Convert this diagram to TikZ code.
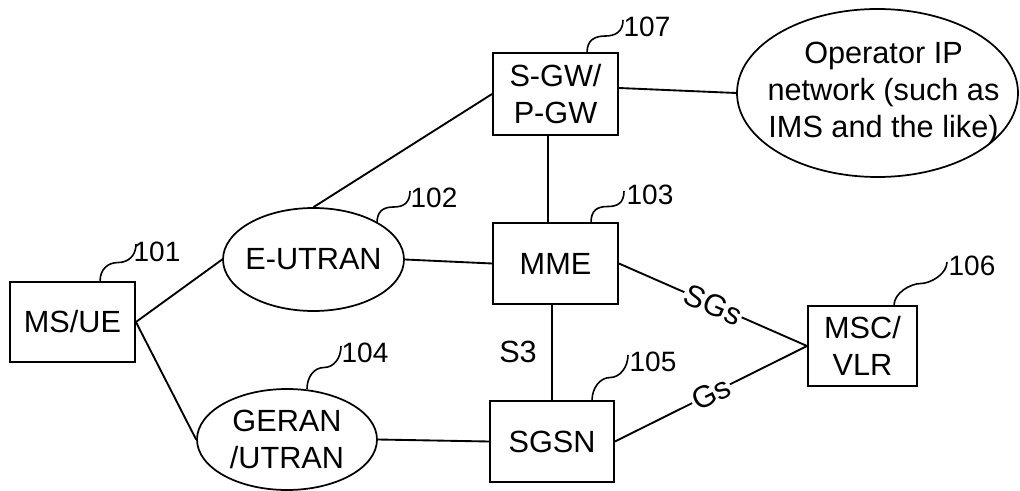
\documentclass[tikz,border=0pt]{standalone}
\usepackage{fontspec}
\setmainfont{Liberation Sans}
\usetikzlibrary{shapes.geometric,calc}
\newcommand\leadline[2]{\draw[lead] (#1) .. controls +(0,-12) and +(-10,0) .. ($(#1)!0.5!(#2)$) .. controls +(10,0) and +(0,12) .. (#2);}
\begin{document}
\begin{tikzpicture}[x=0.75pt,y=-0.75pt,
 line width=1.4pt,
 every node/.style={font=\fontsize{23}{28}\selectfont},
 box/.style={draw, rectangle, inner sep=0pt, align=center, minimum width=93.75pt, minimum height=60.75pt},
 oval/.style={draw, ellipse, inner sep=0pt, line width=1.3pt},
 num/.style={font=\fontsize{21}{24}\selectfont, inner sep=0pt},
 lead/.style={line width=1.2pt},
 iface/.style={fill=white, inner sep=1pt, sloped}]
\useasboundingbox (0,0) rectangle (1020,491);

% main nodes
\node[box, minimum height=60pt] (ms) at (72.5,322) {MS/UE};
\node[oval, minimum width=135.75pt, minimum height=77.25pt, label={center:E-UTRAN}] (eutran) at (313.5,259.5) {};
\node[oval, minimum width=135pt, minimum height=75.75pt, label={[align=center]center:GERAN\\/UTRAN}] (geran) at (287,439.5) {};
\node[box, minimum height=61.5pt] (sgw) at (555.5,94) {S-GW/\\P-GW};
\node[box] (mme) at (555.5,263.5) {MME};
\node[box, minimum width=93pt] (sgsn) at (552,441.5) {SGSN};
\node[box, minimum width=81.75pt, minimum height=60pt] (msc) at (862.5,346) {MSC/\\VLR};
\node[oval, minimum width=210.75pt, minimum height=126pt, label={[align=center,xshift=4.5pt]center:Operator IP\\network (such as\\IMS and the like)}] (op) at (877.5,93) {};

% connectors
\draw (ms.east) -- (eutran.west);
\draw (ms.east) -- (geran.west);
\draw (eutran.north) -- (sgw.west);
\draw (eutran.east) -- (mme.west);
\draw ($(sgw.east)+(0,-6)$) -- (op.west);
\draw ($(sgw.south)+(-7.5,0)$) -- ($(mme.north)+(-7.5,0)$);
\draw ($(mme.south)+(-3.5,0)$) -- (sgsn.north);
\draw (mme.east) -- node[iface]{SGs} (msc.west);
\draw (sgsn.east) -- node[iface]{Gs} (msc.west);
\draw (geran.east) -- (sgsn.west);
\node (s3) at (518,352) {S3};

% reference numerals
\node[num] (l101) at (157,252) {101};
\node[num] (l102) at (434,198) {102};
\node[num] (l103) at (650,195) {103};
\node[num] (l104) at (365,353) {104};
\node[num] (l105) at (653,362) {105};
\node[num] (l106) at (972,266) {106};
\node[num] (l107) at (647,27) {107};

\coordinate (s101) at ($(ms.north west)+(91,0)$);   \coordinate (e101) at (136,244);
\coordinate (s102) at (377,223);                    \coordinate (e102) at (410,191);
\coordinate (s103) at ($(mme.north west)+(99,0)$);  \coordinate (e103) at (624,191);
\coordinate (s104) at (307,389);                    \coordinate (e104) at (341,346);
\coordinate (s105) at ($(sgsn.north west)+(103,0)$); \coordinate (e105) at (628,355);
\coordinate (s106) at ($(msc.north west)+(87,0)$);  \coordinate (e106) at (947,262);
\coordinate (s107) at ($(sgw.north west)+(95,0)$);  \coordinate (e107) at (623,20);

\leadline{s101}{e101}
\leadline{s102}{e102}
\leadline{s103}{e103}
\leadline{s104}{e104}
\leadline{s105}{e105}
\leadline{s106}{e106}
\leadline{s107}{e107}
\end{tikzpicture}
\end{document}
